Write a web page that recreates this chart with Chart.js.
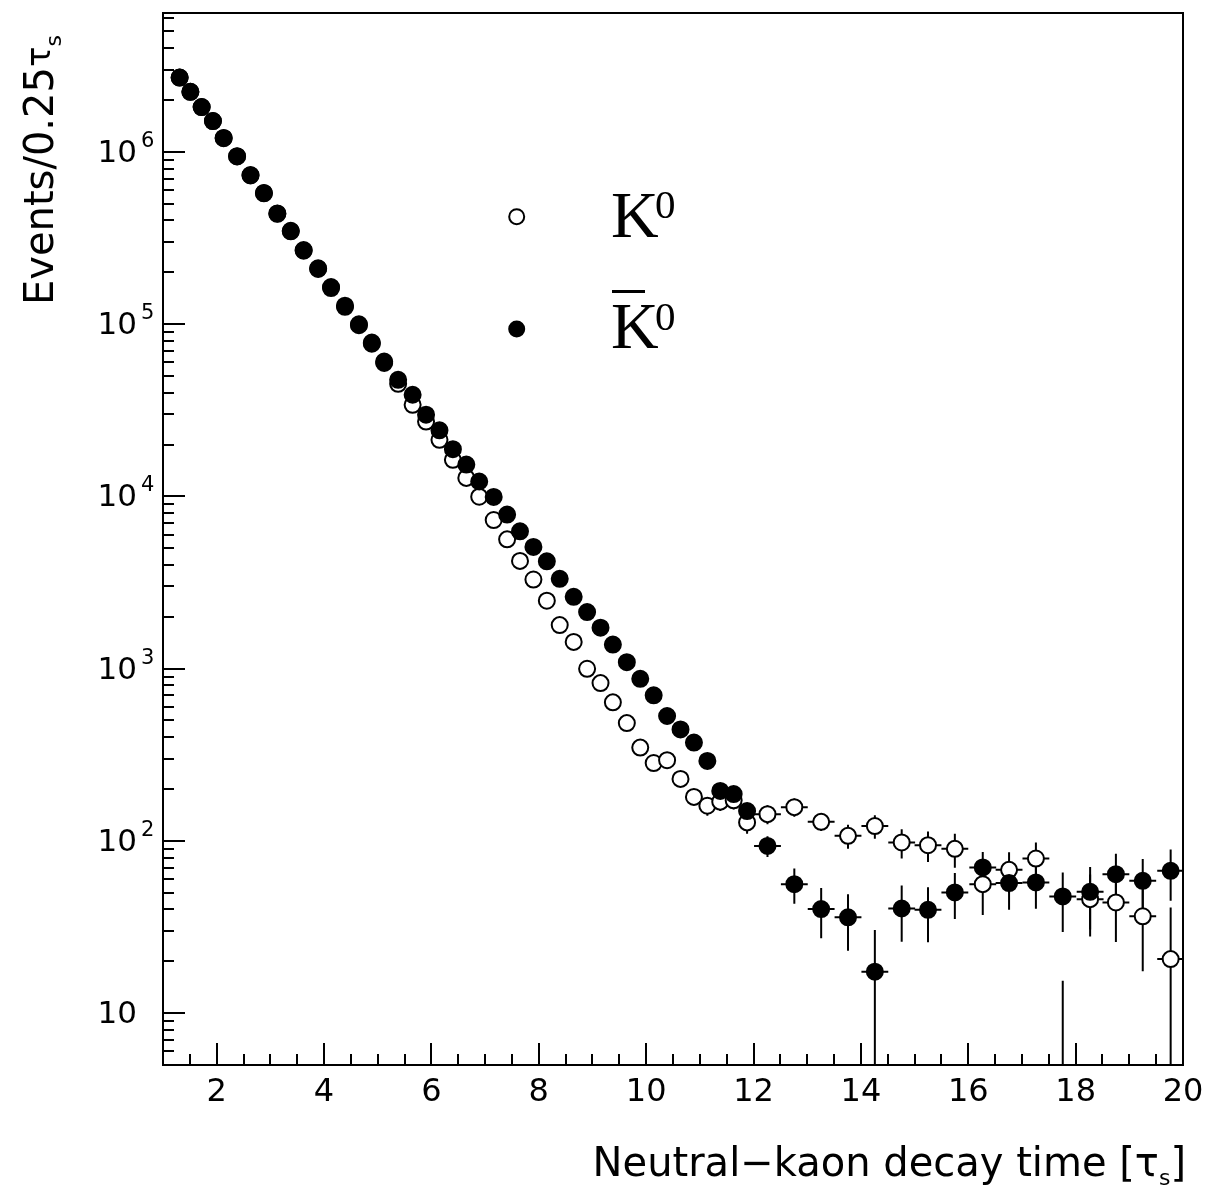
<!DOCTYPE html>
<html>
<head>
<meta charset="utf-8">
<script src="https://cdn.jsdelivr.net/npm/chart.js@4.4.1/dist/chart.umd.min.js"></script>
<style>
  html, body { margin: 0; padding: 0; background: #fff; }
  #wrap { width: 1210px; height: 1192px; }
</style>
</head>
<body>
<div id="wrap"><canvas id="kaonChart" width="1210" height="1192"></canvas></div>
<script>
// bin centres of the decay time [tau_S]
const decayTime = [
  1.31, 1.51, 1.72, 1.93, 2.13, 2.38, 2.63, 2.88, 3.13, 3.38,
  3.62, 3.89, 4.13, 4.39, 4.65, 4.89, 5.12, 5.38, 5.65, 5.90,
  6.15, 6.40, 6.65, 6.89, 7.16, 7.41, 7.65, 7.90, 8.15, 8.39,
  8.65, 8.90, 9.15, 9.38, 9.64, 9.89, 10.14, 10.39, 10.64, 10.89,
  11.14, 11.38, 11.63, 11.88, 12.26, 12.76, 13.26, 13.76, 14.26, 14.76,
  15.25, 15.75, 16.27, 16.76, 17.26, 17.76, 18.27, 18.75, 19.25, 19.77
];
// half bin width (0.25 bins first, 0.5 bins in the tail)
const binHalfWidth = [
  0.125, 0.125, 0.125, 0.125, 0.125, 0.125, 0.125, 0.125, 0.125, 0.125,
  0.125, 0.125, 0.125, 0.125, 0.125, 0.125, 0.125, 0.125, 0.125, 0.125,
  0.125, 0.125, 0.125, 0.125, 0.125, 0.125, 0.125, 0.125, 0.125, 0.125,
  0.125, 0.125, 0.125, 0.125, 0.125, 0.125, 0.125, 0.125, 0.125, 0.125,
  0.125, 0.125, 0.125, 0.125, 0.25, 0.25, 0.25, 0.25, 0.25, 0.25,
  0.25, 0.25, 0.25, 0.25, 0.25, 0.25, 0.25, 0.25, 0.25, 0.25
];
// K0 (open circles)
const kaonEvents = [
  2.70e6, 2.23e6, 1.82e6, 1.51e6, 1.20e6, 9.40e5, 7.30e5, 5.75e5, 4.37e5, 3.46e5,
  2.67e5, 2.09e5, 1.62e5, 1.26e5, 9.85e4, 7.70e4, 5.95e4, 4.50e4, 3.40e4, 2.72e4,
  2.13e4, 1.63e4, 1.28e4, 9960, 7290, 5630, 4220, 3290, 2480, 1790,
  1430, 998, 824, 637, 483, 348, 283, 294, 229, 180,
  160, 169, 172, 128, 143, 157, 129, 107, 122, 97.9,
  94.4, 89.9, 56.1, 67.9, 79.0, 3, 45.9, 43.9, 36.5, 20.6
];
const kaonErrors = [
  0, 0, 0, 0, 0, 0, 0, 0, 0, 0,
  0, 0, 0, 0, 0, 0, 0, 0, 0, 0,
  0, 0, 0, 0, 0, 0, 0, 0, 0, 0,
  0, 0, 0, 0, 0, 0, 0, 0, 0, 15,
  20, 20, 20, 18, 18, 19, 15, 17, 19, 19,
  19, 20, 19, 18, 19, 12.4, 18, 18, 19, 20.5
];
// anti-K0 (filled circles)
const antiKaonEvents = [
  2.70e6, 2.23e6, 1.82e6, 1.51e6, 1.205e6, 9.44e5, 7.33e5, 5.78e5, 4.39e5, 3.48e5,
  2.69e5, 2.11e5, 1.64e5, 1.28e5, 9.98e4, 7.81e4, 6.06e4, 4.75e4, 3.89e4, 2.98e4,
  2.42e4, 1.88e4, 1.53e4, 1.22e4, 9930, 7840, 6270, 5090, 4200, 3320,
  2610, 2130, 1730, 1380, 1090, 873, 700, 531, 444, 372,
  291, 195, 187, 149, 93.5, 56.1, 40.2, 36.0, 17.4, 40.5,
  39.8, 50.2, 70.1, 56.9, 57.4, 47.6, 50.6, 64.1, 58.6, 67.0
];
const antiKaonErrors = [
  0, 0, 0, 0, 0, 0, 0, 0, 0, 0,
  0, 0, 0, 0, 0, 0, 0, 0, 0, 0,
  0, 0, 0, 0, 0, 0, 0, 0, 0, 0,
  0, 0, 0, 0, 0, 0, 0, 0, 0, 0,
  0, 0, 0, 0, 13, 13, 13, 13, 13, 14.5,
  14, 15, 16, 17, 17, 18, 20, 20, 20, 22
];
const xTickLabels = [2, 4, 6, 8, 10, 12, 14, 16, 18, 20];
const yDecades = [1, 2, 3, 4, 5, 6];

const AXIS_FONT = '"DejaVu Sans", sans-serif';

function points(values, errors) {
  return decayTime.map((t, i) => ({ x: t, y: values[i], xerr: binHalfWidth[i], yerr: errors[i] }));
}

// draw text pieces one after another, [text, size, dy]
function drawRuns(ctx, runs, x, y, measureOnly) {
  let cx = x;
  runs.forEach(([text, size, dy]) => {
    ctx.font = size + 'px ' + AXIS_FONT;
    if (!measureOnly) ctx.fillText(text, cx, y + dy);
    cx += ctx.measureText(text).width;
  });
  return cx - x;
}

// error bars go under the markers
const errorBars = {
  id: 'errorBars',
  beforeDatasetsDraw(chart) {
    const { ctx, chartArea: a, scales: { x, y } } = chart;
    ctx.save();
    ctx.beginPath();
    ctx.rect(a.left, a.top, a.right - a.left, a.bottom - a.top);
    ctx.clip();
    ctx.strokeStyle = '#000';
    ctx.lineWidth = 2;
    chart.data.datasets.forEach(ds => {
      ds.data.forEach(p => {
        const px = x.getPixelForValue(p.x);
        const py = y.getPixelForValue(p.y);
        ctx.beginPath();
        if (p.yerr > 0) {
          ctx.moveTo(x.getPixelForValue(p.x - p.xerr), py);
          ctx.lineTo(x.getPixelForValue(p.x + p.xerr), py);
          const lo = Math.max(p.y - p.yerr, y.min * 0.5);
          ctx.moveTo(px, y.getPixelForValue(p.y + p.yerr));
          ctx.lineTo(px, y.getPixelForValue(lo));
        }
        ctx.stroke();
      });
    });
    ctx.restore();
  }
};

// frame, inward ticks, labels, titles and legend (PAW style)
const pawFrame = {
  id: 'pawFrame',
  afterDraw(chart) {
    const { ctx, chartArea: a, scales: { x, y } } = chart;
    ctx.save();
    ctx.strokeStyle = '#000';
    ctx.fillStyle = '#000';
    ctx.lineWidth = 2;
    ctx.strokeRect(a.left, a.top, a.right - a.left, a.bottom - a.top);

    // x ticks every 0.5, long ones at the labels
    ctx.beginPath();
    for (let v = 1.5; v < 20; v += 0.5) {
      const px = Math.round(x.getPixelForValue(v));
      const len = xTickLabels.includes(v) ? 22 : 11;
      ctx.moveTo(px, a.bottom);
      ctx.lineTo(px, a.bottom - len);
    }
    // y ticks: decades long, 2..9 short
    for (let e = 0; e <= 6; e++) {
      for (let m = 1; m <= 9; m++) {
        const v = m * Math.pow(10, e);
        if (v <= y.min || v >= y.max) continue;
        const py = Math.round(y.getPixelForValue(v));
        ctx.moveTo(a.left, py);
        ctx.lineTo(a.left + (m === 1 ? 22 : 11), py);
      }
    }
    ctx.stroke();

    // x tick labels
    ctx.textAlign = 'center';
    ctx.textBaseline = 'alphabetic';
    ctx.font = '32px ' + AXIS_FONT;
    xTickLabels.forEach(v => {
      ctx.fillText(String(v), x.getPixelForValue(v), 1101);
    });

    // y tick labels 10^n
    yDecades.forEach(e => {
      const py = y.getPixelForValue(Math.pow(10, e));
      ctx.textAlign = 'right';
      ctx.font = '31px ' + AXIS_FONT;
      ctx.fillText('10', 137, py + 10);
      if (e > 1) {
        ctx.textAlign = 'left';
        ctx.font = '21px ' + AXIS_FONT;
        ctx.fillText(String(e), 141, py - 5);
      }
    });

    // x title, right aligned to the frame
    ctx.textAlign = 'left';
    const xTitle = [['Neutral\u2212kaon decay time [', 40, 0], ['\u03c4', 40, 0], ['s', 22, 9], [']', 40, 0]];
    const w = drawRuns(ctx, xTitle, 0, 0, true);
    drawRuns(ctx, xTitle, 1186 - w, 1176);

    // y title, rotated
    ctx.save();
    ctx.translate(53, 305);
    ctx.rotate(-Math.PI / 2);
    drawRuns(ctx, [['Events/0.25', 40, 0], ['\u03c4', 34, -3], ['s', 22, 8]], 0, 0);
    ctx.restore();

    // legend
    const marks = [
      { ds: chart.data.datasets[1], y: 216.7, base: 237, sup: 218, bar: false },
      { ds: chart.data.datasets[0], y: 329, base: 348, sup: 330, bar: true }
    ];
    marks.forEach(m => {
      ctx.beginPath();
      ctx.arc(516.7, m.y, 7.5, 0, Math.PI * 2);
      ctx.fillStyle = m.ds.pointBackgroundColor;
      ctx.fill();
      ctx.lineWidth = m.ds.pointBorderWidth;
      ctx.strokeStyle = '#000';
      ctx.stroke();
      ctx.fillStyle = '#000';
      ctx.textAlign = 'left';
      ctx.font = '66px "Liberation Serif", serif';
      ctx.fillText('K', 611, m.base);
      ctx.font = '41px "Liberation Serif", serif';
      ctx.fillText('0', 655, m.sup);
      if (m.bar) ctx.fillRect(612, 290, 33, 3);
    });
    ctx.restore();
  }
};

new Chart(document.getElementById('kaonChart'), {
  type: 'scatter',
  data: {
    datasets: [
      {
        label: 'anti-K0',
        data: points(antiKaonEvents, antiKaonErrors),
        pointRadius: 8,
        pointBorderWidth: 2,
        pointBackgroundColor: '#000',
        pointBorderColor: '#000'
      },
      {
        label: 'K0',
        data: points(kaonEvents, kaonErrors),
        pointRadius: 8,
        pointBorderWidth: 2,
        pointBackgroundColor: '#fff',
        pointBorderColor: '#000'
      }
    ]
  },
  options: {
    responsive: false,
    animation: false,
    events: [],
    layout: { padding: { left: 163, top: 13, right: 27, bottom: 127 } },
    plugins: { legend: { display: false }, tooltip: { enabled: false } },
    scales: {
      x: { type: 'linear', min: 1, max: 20, display: false },
      y: { type: 'logarithmic', min: 5, max: 6.4e6, display: false }
    }
  },
  plugins: [errorBars, pawFrame]
});
</script>
</body>
</html>
